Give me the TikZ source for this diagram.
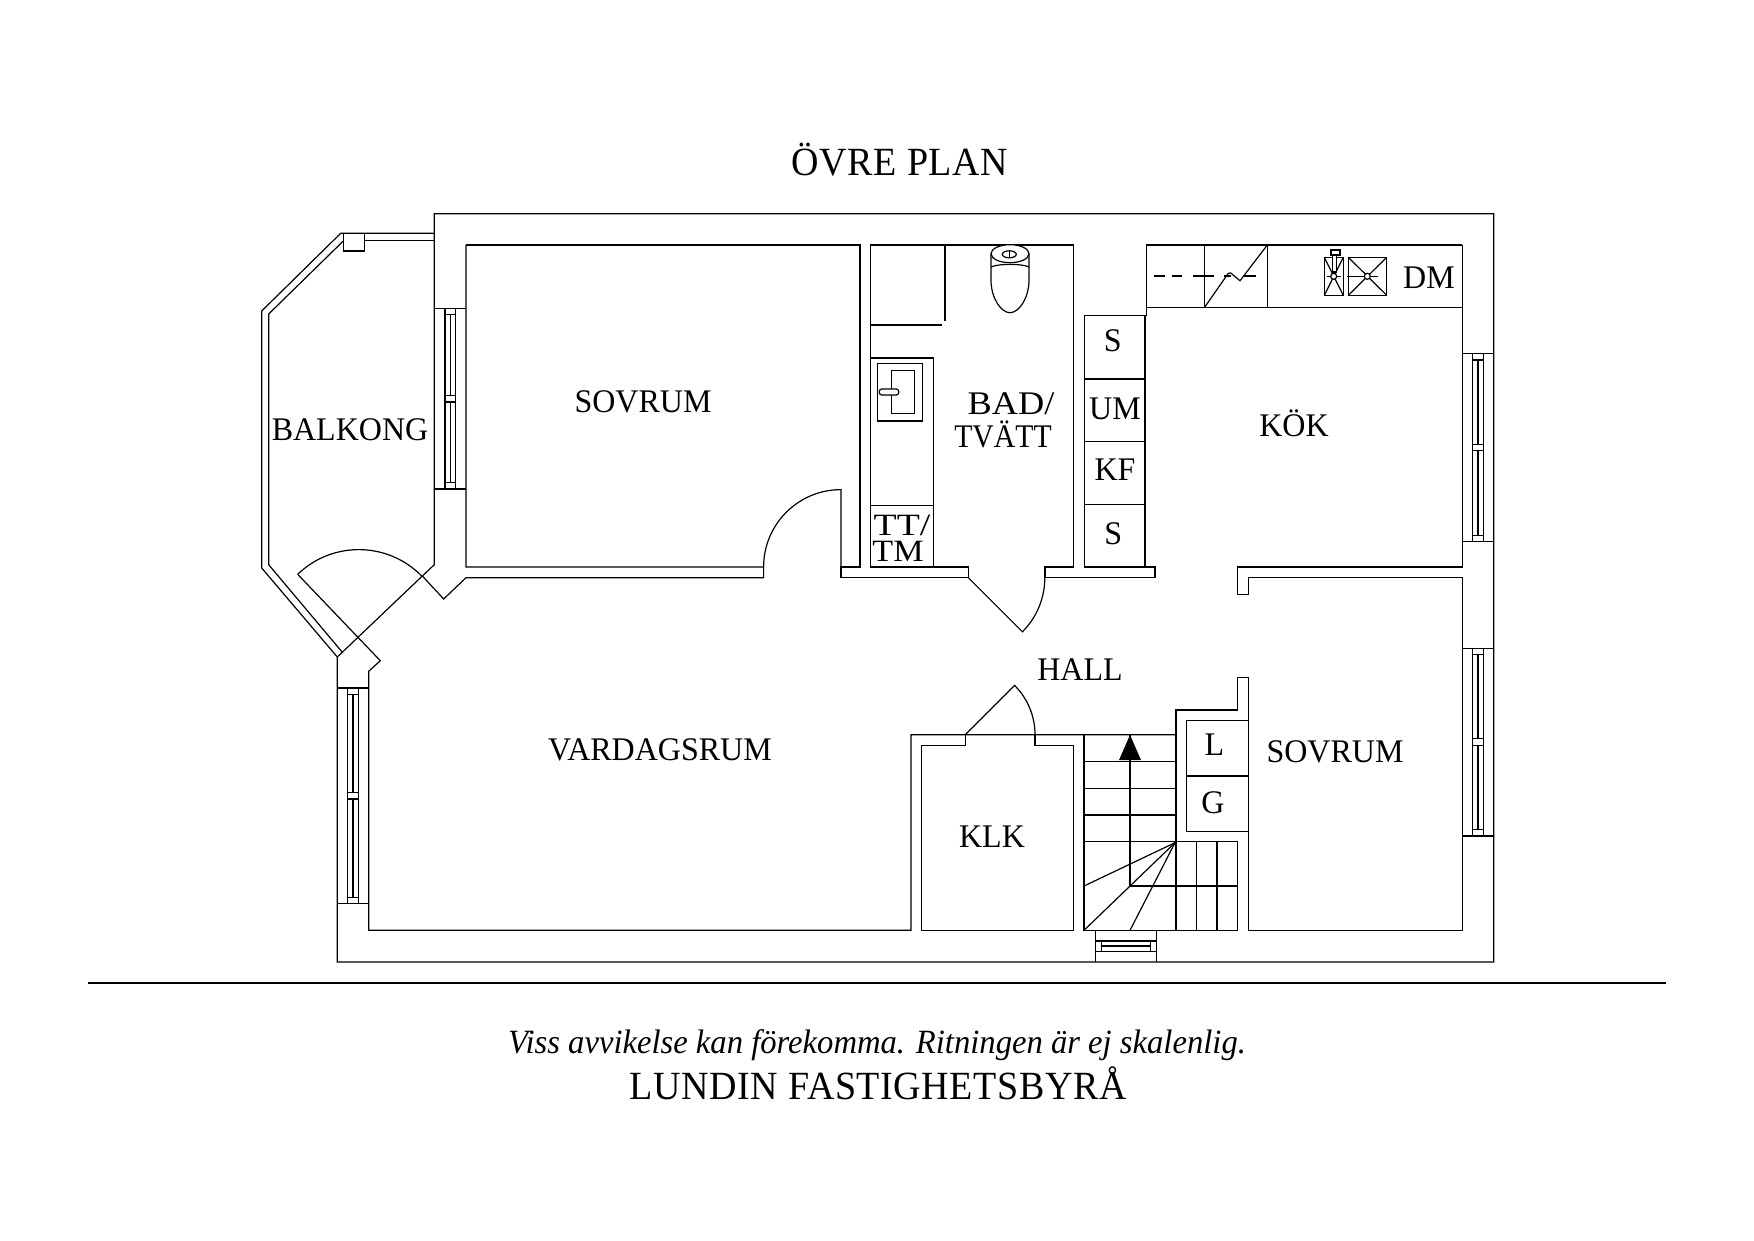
\documentclass[tikz,border=0pt]{standalone}
\usepackage{fontspec}
\setmainfont{Liberation Serif}
\newfontfamily\planfont[FakeStretch=0.97]{Liberation Serif}
\newfontfamily\tightfont[FakeStretch=0.9]{Liberation Serif}
\newfontfamily\widefont[FakeStretch=1.1]{Liberation Serif}
\newfontfamily\xwidefont[FakeStretch=1.22]{Liberation Serif}
\newfontfamily\signfont[FakeStretch=0.95,LetterSpace=1.5]{Liberation Serif}
\newfontfamily\notefont[FakeStretch=0.96,Ligatures=TeX]{Liberation Serif Italic}

\tikzset{
	wall/.style={line width=1.2,line join=miter},
	room/.style={anchor=base,inner sep=0,font=\planfont\fontsize{33}{33}\selectfont},
	sign/.style={anchor=base,inner sep=0,font=\signfont\fontsize{40}{40}\selectfont},
}

\begin{document}
\begin{tikzpicture}[x=1pt,y=-1pt,wall]

\useasboundingbox (0,0) rectangle (1754,1240);

% outer walls
\draw (422.3,576)--(434.3,564.7)--(434.3,213.7)--(1493.7,213.7)--(1493.7,962)--(337.3,962)--(337.3,657);
\draw (466,245)--(860,245)--(860,567)--(841,567)--(841,577.7)--(968.3,577.7)--(968.3,567)--(870.3,567)--(870.3,245)--(1073.3,245)--(1073.3,567)--(1045,567)--(1045,577.7)--(1155,577.7)--(1155,567)--(1084.3,567)--(1084.3,315.7)--(1145,315.7)--(1145,567);
\draw (466,245)--(466,567)--(763.6,567)--(763.6,577.7)--(466,577.7)--(443.7,599)--(422.3,576);

% balcony
\draw (434,233.3)--(340.7,233.3)--(261.7,311)--(261.7,568)--(337.3,657);
\draw (434,240.3)--(364.3,240.3);
\draw (343.3,241)--(268.7,314)--(268.7,564.7)--(342.7,652.7);
\draw (343.3,233.5) rectangle (364.3,251);

% doors
\draw (297.7,574.3) arc[start angle=-134,end angle=-44,radius=88];
\draw (297.7,574.3)--(380.3,660.7)--(368.7,671.3)--(368.7,930.3)--(911,930.3)--(911,734.7)--(1176,734.7);
\draw (965.3,734.7)--(965.3,745.3)--(921.3,745.3)--(921.3,930.3)--(1073.7,930.3)--(1073.7,745.3)--(1035,745.3)--(1035,734.7);
\draw (422.3,576)--(337.3,657);
\draw (841,567)--(841,489.6) arc[start angle=-90,end angle=-180,radius=77.4];
\draw (968.3,577.7)--(1022.4,631.8) arc[start angle=45,end angle=0,radius=76.5];
\draw (965.3,734.7)--(1014.6,685.4) arc[start angle=-45,end angle=0,radius=69.7];

% windows
\foreach \wx/\wt/\wb in {445/308.3/489,347.7/688/903.3,1472.7/353.7/541.3,1472.7/648.3/836}{
	\draw (\wx-10.4,\wt)--(\wx+20.8,\wt);
	\draw (\wx-10.4,\wb)--(\wx+20.8,\wb);
	\draw (\wx,\wt) rectangle (\wx+10.6,\wb);
	\draw (\wx,\wt+6.2)--(\wx+10.6,\wt+6.2);
	\draw (\wx,\wb-6.2)--(\wx+10.6,\wb-6.2);
	\draw (\wx+5.3,\wt+6.2)--(\wx+5.3,\wb-6.2);
	\draw[fill=white] (\wx,{(\wt+\wb)/2-3.3}) rectangle (\wx+10.6,{(\wt+\wb)/2+3.3});
}

% east walls and hall
\draw (1462.3,245)--(1462.3,567)--(1237.7,567)--(1237.7,594.3)--(1248.7,594.3)--(1248.7,577.7)--(1462.3,577.7)--(1462.3,930.3)--(1248.3,930.3)--(1248.3,677.3)--(1237.7,677.3)--(1237.7,710)--(1176,710)--(1176,930.3);

% bath
\draw (945,245)--(945,320.7);
\draw (870.3,325)--(941.7,325);
\draw (870.3,358)--(933.3,358)--(933.3,567);
\draw (870.3,505.7)--(933.3,505.7);
\draw (877.3,363.3) rectangle (922.7,421);
\draw (891.7,370.3) rectangle (914.7,413.7);
\draw[fill=white,rounded corners=2.5] (879.3,389) rectangle (898.7,395);
\draw (991,253.7)--(991,280) .. controls (991,298) and (1001,312.7) .. (1010,312.7) .. controls (1019,312.7) and (1029,298) .. (1029,280)--(1029,253.7);
\draw (991,267) .. controls (998,263.5) and (1022,263.5) .. (1029,267);
\draw[fill=white] (1010,253.7) ellipse[x radius=19,y radius=9];
\draw (1009.3,254.3) ellipse[x radius=7,y radius=3.5];
\draw (1009.3,250.8)--(1009.3,257.8);

% storage
\foreach \yy in {379,441.5,504.3}{
	\draw (1084.3,\yy)--(1145,\yy);
}

% kitchen
\draw (1146.3,316)--(1146.3,245)--(1462.3,245);
\draw (1146.3,307.7)--(1462.3,307.7);
\draw (1204.3,245)--(1204.3,307.7);
\draw (1267.3,245)--(1267.3,307.7);
\draw (1204.3,307.7)--(1228.3,273.3)--(1230.7,273)--(1240,280.7)--(1267.3,245);
\draw[dash pattern=on 11 off 7 on 10 off 11 on 21 off 10 on 7 off 13 on 12] (1154,276)--(1256,276);
\draw (1324.3,257.3) rectangle (1343.3,295.3);
\draw (1324.3,257.3)--(1343.3,295.3);
\draw (1343.3,257.3)--(1324.3,295.3);
\draw (1326.7,276.3)--(1341,276.3);
\draw[fill=white] (1331,250) rectangle (1340,255);
\draw[fill=white] (1332.5,255) rectangle (1336.7,272);
\draw[fill=white] (1333.7,276.3) circle[radius=3];
\draw (1348.3,257.3) rectangle (1386.7,295.3);
\draw (1348.3,257.3)--(1386.7,295.3);
\draw (1386.7,257.3)--(1348.3,295.3);
\draw (1347,276.3)--(1378,276.3);
\draw[fill=white] (1367.3,276.3) circle[radius=3];

% stairs
\foreach \yy in {761.3,788.3,815}{
	\draw (1084,\yy)--(1176,\yy);
}
\draw (1084,734.7)--(1084,930.3)--(1237.7,930.3)--(1237.7,841.7)--(1084,841.7);
\draw (1130,735)--(1130,886)--(1237.7,886);
\foreach \xx in {1196.7,1217}{
	\draw (\xx,841.7)--(\xx,930.3);
}
\draw (1175,842.7)--(1084,886);
\draw (1175,842.7)--(1084,930.3);
\draw (1175,842.7)--(1130,930.3);
\fill (1175,842.7) circle[radius=1.6];
\fill (1130,735)--(1141,760)--(1119,760)--cycle;
\draw (1186.7,720.3) rectangle (1248.3,831.3);
\draw (1186.7,776)--(1248.3,776);
\draw (1095.3,930.3)--(1095.3,962);
\draw (1156.3,930.3)--(1156.3,962);
\draw (1095.3,941)--(1156.3,941);
\draw (1095.3,951.7)--(1156.3,951.7);
\draw (1101.3,941) rectangle (1150.3,951.7);
\draw (1101.3,946)--(1150.3,946);

\draw[line width=2.4] (88,982.7)--(1665.6,982.7);

% labels
\node[sign] (title) at (900,175) {ÖVRE PLAN};
\node[room] (balkong) at (350,440) {BALKONG};
\node[room] (sovrumA) at (643,412) {SOVRUM};
\node[room] (vardagsrum) at (660,760.7) {VARDAGSRUM};
\node[room,font=\widefont\fontsize{33}{33}\selectfont] (bad) at (1011,414) {BAD/};
\node[room,font=\tightfont\fontsize{33}{33}\selectfont] (tvatt) at (1003,447) {TVÄTT};
\node[room,font=\xwidefont\fontsize{31}{31}\selectfont] (ttA) at (902,535) {TT/};
\node[room,font=\widefont\fontsize{31}{31}\selectfont] (tm) at (898,561) {TM};
\node[room] (sA) at (1112.7,351.7) {S};
\node[room] (um) at (1115,419.3) {UM};
\node[room] (kf) at (1115,480) {KF};
\node[room] (sB) at (1113.3,544) {S};
\node[room] (kok) at (1294,436) {KÖK};
\node[room] (dm) at (1429,288.3) {DM};
\node[room] (hall) at (1080,680) {HALL};
\node[room] (klk) at (992,847.7) {KLK};
\node[room] (l) at (1214.3,755.7) {L};
\node[room] (g) at (1213,813.3) {G};
\node[room] (sovrumB) at (1335,762.5) {SOVRUM};
\node[anchor=base,inner sep=0,font=\notefont\fontsize{34}{34}\selectfont] (note) at (877,1053) {Viss avvikelse kan förekomma. Ritningen är ej skalenlig.};
\node[sign] (firm) at (878,1099) {LUNDIN FASTIGHETSBYRÅ};

\end{tikzpicture}
\end{document}
